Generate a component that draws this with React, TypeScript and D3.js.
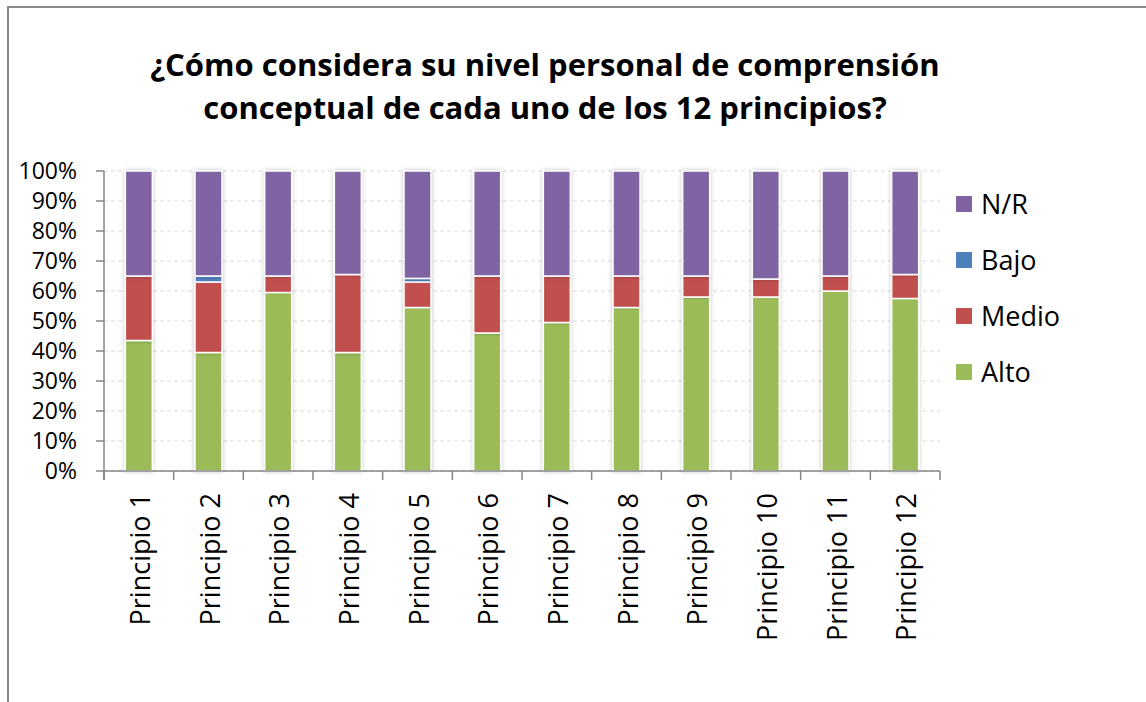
import React from "react";
import * as d3 from "d3";

const categories = [
  "Principio 1", "Principio 2", "Principio 3", "Principio 4", "Principio 5", "Principio 6",
  "Principio 7", "Principio 8", "Principio 9", "Principio 10", "Principio 11", "Principio 12",
];
const alto = [43.5, 39.5, 59.5, 39.5, 54.5, 46, 49.5, 54.5, 58, 58, 60, 57.5];
const medio = [21.5, 23.5, 5.5, 26, 8.5, 19, 15.5, 10.5, 7, 6, 5, 8];
const bajo = [0, 2, 0, 0, 1.2, 0, 0, 0, 0, 0, 0, 0];
const nr = [35, 35, 35, 34.5, 35.8, 35, 35, 35, 35, 36, 35, 34.5];
const seriesNames = ["Alto", "Medio", "Bajo", "N/R"];
const seriesColors = ["#9BBB59", "#C0504D", "#4F81BD", "#8064A2"];
const yTicks = [0, 0.1, 0.2, 0.3, 0.4, 0.5, 0.6, 0.7, 0.8, 0.9, 1];
const titleLines = [
  "¿Cómo considera su nivel personal de comprensión",
  "conceptual de cada uno de los 12 principios?",
];

const FONT = "'Open Sans', 'Noto Sans', sans-serif";

export default function App() {
  const W = 1146, H = 702;
  const x0 = 104, x1 = 940, yTop = 171, yBot = 471;

  const rows = categories.map((c, i) => {
    const total = alto[i] + medio[i] + bajo[i] + nr[i];
    return {
      cat: c,
      Alto: alto[i] / total,
      Medio: medio[i] / total,
      Bajo: bajo[i] / total,
      "N/R": nr[i] / total,
    };
  });
  const stack = d3.stack<any>().keys(seriesNames);
  const layers = stack(rows);

  const x = d3.scaleBand<string>().domain(categories).range([x0, x1]).paddingInner(0).paddingOuter(0);
  const y = d3.scaleLinear().domain([0, 1]).range([yBot, yTop]);
  const barW = 27;
  const fmt = d3.format(".0%");
  const bw = x.bandwidth();
  const boundaries = d3.range(categories.length + 1).map((i) => x0 + i * bw);

  return (
    <svg width={W} height={H} style={{ position: "absolute", left: 0, top: 0, background: "#fff" }}>
      <defs>
        <filter id="sh" x="-30%" y="-5%" width="160%" height="110%">
          <feDropShadow dx="0" dy="0" stdDeviation="2" floodColor="#000" floodOpacity="0.25" />
        </filter>
      </defs>
      <rect x={0} y={0} width={W} height={H} fill="#fff" />
      <rect x={8} y={7} width={W + 20} height={H + 20} fill="none" stroke="#888" strokeWidth={2} />

      {titleLines.map((t, i) => (
        <text key={i} x={545} y={76 + i * 43} textAnchor="middle" fontFamily={FONT} fontWeight="bold" fontSize={31} fill="#000">
          {t}
        </text>
      ))}

      {/* gridlines */}
      {yTicks.map((t) => (
        <line key={t} x1={x0} x2={x1} y1={y(t)} y2={y(t)} stroke="#d9d9d9" strokeWidth={1} strokeDasharray="4,3" />
      ))}

      {/* bars */}
      {layers.map((layer, li) => (
        <g key={layer.key}>
          {layer.map((d, i) => {
            const h = y(d[0]) - y(d[1]);
            if (h <= 0.01) return null;
            const cx = (x(categories[i]) as number) + bw / 2;
            return (
              <rect
                key={i}
                x={cx - barW / 2}
                y={y(d[1])}
                width={barW}
                height={h}
                fill={seriesColors[li]}
                stroke="#fff"
                strokeWidth={1.5}
                filter="url(#sh)"
              />
            );
          })}
        </g>
      ))}

      {/* y axis */}
      <line x1={x0} x2={x0} y1={yTop} y2={yBot + 9} stroke="#868686" strokeWidth={1.5} />
      {yTicks.map((t) => (
        <g key={t}>
          <line x1={x0 - 8} x2={x0} y1={y(t)} y2={y(t)} stroke="#868686" strokeWidth={1.5} />
          <text x={77} y={y(t)} dy="0.36em" textAnchor="end" fontFamily={FONT} fontSize={23} fill="#000">
            {fmt(t)}
          </text>
        </g>
      ))}

      {/* x axis */}
      <line x1={x0} x2={x1} y1={yBot} y2={yBot} stroke="#868686" strokeWidth={1.5} />
      {boundaries.map((bx, i) => (
        <line key={i} x1={bx} x2={bx} y1={yBot} y2={yBot + 9} stroke="#868686" strokeWidth={1.5} />
      ))}
      {categories.map((c) => {
        const cx = (x(c) as number) + bw / 2;
        return (
          <text
            key={c}
            transform={`translate(${cx + 11},${493}) rotate(-90)`}
            textAnchor="end"
            fontFamily={FONT}
            fontSize={27}
            fill="#000"
          >
            {c}
          </text>
        );
      })}

      {/* legend */}
      {["N/R", "Bajo", "Medio", "Alto"].map((name, i) => {
        const ci = seriesNames.indexOf(name);
        const cy = 204 + i * 56;
        return (
          <g key={name}>
            <rect x={956} y={cy - 8} width={16} height={16} fill={seriesColors[ci]} />
            <text x={981} y={cy} dy="0.36em" fontFamily={FONT} fontSize={27} fill="#000">
              {name}
            </text>
          </g>
        );
      })}
    </svg>
  );
}
